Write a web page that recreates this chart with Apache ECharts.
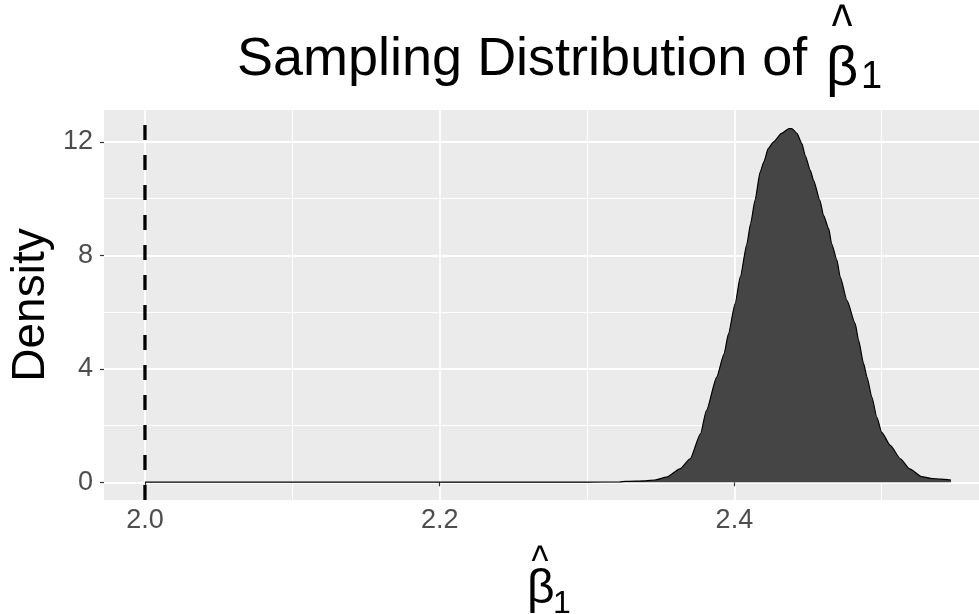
<!DOCTYPE html>
<html><head><meta charset="utf-8">
<script src="https://cdn.jsdelivr.net/npm/echarts@6/dist/echarts.min.js"></script>
<style>html,body{margin:0;padding:0;background:#fff}#c{width:979px;height:614px}</style>
</head><body><div id="c"></div>
<script>
// Estimated kernel density of beta-hat_1
const densityX = [2.000, 2.100, 2.200, 2.300, 2.322, 2.326, 2.340, 2.346, 2.354, 2.363, 2.370, 2.377, 2.381, 2.388, 2.393, 2.396, 2.4005, 2.404, 2.4085, 2.411, 2.414, 2.4175, 2.420, 2.423, 2.4266, 2.432, 2.437, 2.439, 2.4424, 2.4458, 2.448, 2.4515, 2.4537, 2.458, 2.4605, 2.464, 2.466, 2.4696, 2.4718, 2.4764, 2.482, 2.4843, 2.4877, 2.490, 2.4933, 2.4967, 2.500, 2.5058, 2.5126, 2.519, 2.527, 2.533, 2.540, 2.547];
const densityY = [0.005, 0.005, 0.005, 0.008, 0.01, 0.03, 0.05, 0.08, 0.18, 0.47, 0.83, 1.71, 2.53, 3.71, 4.53, 5.24, 6.30, 7.24, 8.41, 9.12, 9.94, 10.94, 11.30, 11.77, 12.00, 12.30, 12.47, 12.47, 12.30, 11.94, 11.53, 11.00, 10.65, 9.94, 9.41, 8.94, 8.41, 7.83, 7.24, 6.41, 5.59, 5.00, 4.18, 3.71, 3.00, 2.29, 1.76, 1.30, 0.83, 0.47, 0.20, 0.14, 0.11, 0.08];
const trueBeta = [2.0];
const xMajorTicks = [2.0, 2.2, 2.4];
const xMinorTicks = [2.1, 2.3, 2.5];
const yMajorTicks = [0, 4, 8, 12];
const yMinorTicks = [2, 6, 10];
const xRange = [1.9722, 2.566];
const yRange = [-0.625, 13.125];

const FONT = '"Liberation Sans", Arial, sans-serif';
const chart = echarts.init(document.getElementById('c'), null, {renderer: 'canvas'});

const densityData = densityX.map((x, i) => [x, densityY[i]]);

function baseAxis(common) {
  return Object.assign({
    type: 'value',
    axisLine: {show: false},
  }, common);
}

const option = {
  animation: false,
  backgroundColor: '#ffffff',
  grid: {left: 104, right: 0, top: 110, bottom: 114, show: true, backgroundColor: '#EBEBEB', borderWidth: 0},
  xAxis: [
    baseAxis({
      min: xRange[0], max: xRange[1],
      axisTick: {show: true, length: 4, lineStyle: {color: '#333333', width: 1.2}, customValues: xMajorTicks},
      axisLabel: {show: true, customValues: xMajorTicks, formatter: v => Number(v).toFixed(1), fontSize: 27, color: '#4D4D4D', fontFamily: FONT, margin: 7},
      splitLine: {show: true, lineStyle: {color: '#FFFFFF', width: 1.8}}
    }),
    baseAxis({
      min: xRange[0], max: xRange[1], position: 'bottom',
      axisTick: {show: false, customValues: xMinorTicks},
      axisLabel: {show: false, customValues: xMinorTicks},
      splitLine: {show: true, lineStyle: {color: '#FFFFFF', width: 1.1}}
    })
  ],
  yAxis: [
    baseAxis({
      min: yRange[0], max: yRange[1],
      axisTick: {show: true, length: 4, lineStyle: {color: '#333333', width: 1.2}, customValues: yMajorTicks},
      axisLabel: {show: true, customValues: yMajorTicks, formatter: v => String(v), fontSize: 27, color: '#4D4D4D', fontFamily: FONT, margin: 11},
      splitLine: {show: true, lineStyle: {color: '#FFFFFF', width: 1.8}}
    }),
    baseAxis({
      min: yRange[0], max: yRange[1], position: 'left',
      axisTick: {show: false, customValues: yMinorTicks},
      axisLabel: {show: false, customValues: yMinorTicks},
      splitLine: {show: true, lineStyle: {color: '#FFFFFF', width: 1.1}}
    })
  ],
  series: [
    {
      type: 'line', xAxisIndex: 0, yAxisIndex: 0,
      data: densityData, showSymbol: false, smooth: 0.2, smoothMonotone: 'x',
      lineStyle: {color: '#000000', width: 1.2},
      areaStyle: {color: '#454545', opacity: 1},
      z: 3
    },
    {
      type: 'line', xAxisIndex: 0, yAxisIndex: 0,
      data: [[trueBeta[0], yRange[0]], [trueBeta[0], yRange[1]]],
      showSymbol: false,
      lineStyle: {color: '#000000', width: 3.3, type: [15, 15]},
      z: 4
    }
  ],
  graphic: [
    {type: 'text', x: 237, y: 60, style: {text: 'Sampling Distribution of', font: '54px ' + FONT, fill: '#000', align: 'left', verticalAlign: 'middle'}},
    {type: 'text', x: 826, y: 70, style: {text: 'β', font: '56px ' + FONT, fill: '#000', align: 'left', verticalAlign: 'middle'}},
    {type: 'text', x: 842, y: 30, scaleY: 1.35, style: {text: '^', font: '44px ' + FONT, fill: '#000', align: 'center', verticalAlign: 'middle'}},
    {type: 'text', x: 861, y: 78, style: {text: '1', font: '38px ' + FONT, fill: '#000', align: 'left', verticalAlign: 'middle'}},
    {type: 'text', x: 527, y: 590, style: {text: 'β', font: '48px ' + FONT, fill: '#000', align: 'left', verticalAlign: 'middle'}},
    {type: 'text', x: 540, y: 563, scaleY: 1.2, style: {text: '^', font: '36px ' + FONT, fill: '#000', align: 'center', verticalAlign: 'middle'}},
    {type: 'text', x: 553, y: 604, style: {text: '1', font: '32px ' + FONT, fill: '#000', align: 'left', verticalAlign: 'middle'}},
    {type: 'text', x: 31, y: 305, rotation: Math.PI / 2, style: {text: 'Density', font: '46px ' + FONT, fill: '#000', align: 'center', verticalAlign: 'middle'}}
  ]
};
chart.setOption(option);
</script>
</body></html>
